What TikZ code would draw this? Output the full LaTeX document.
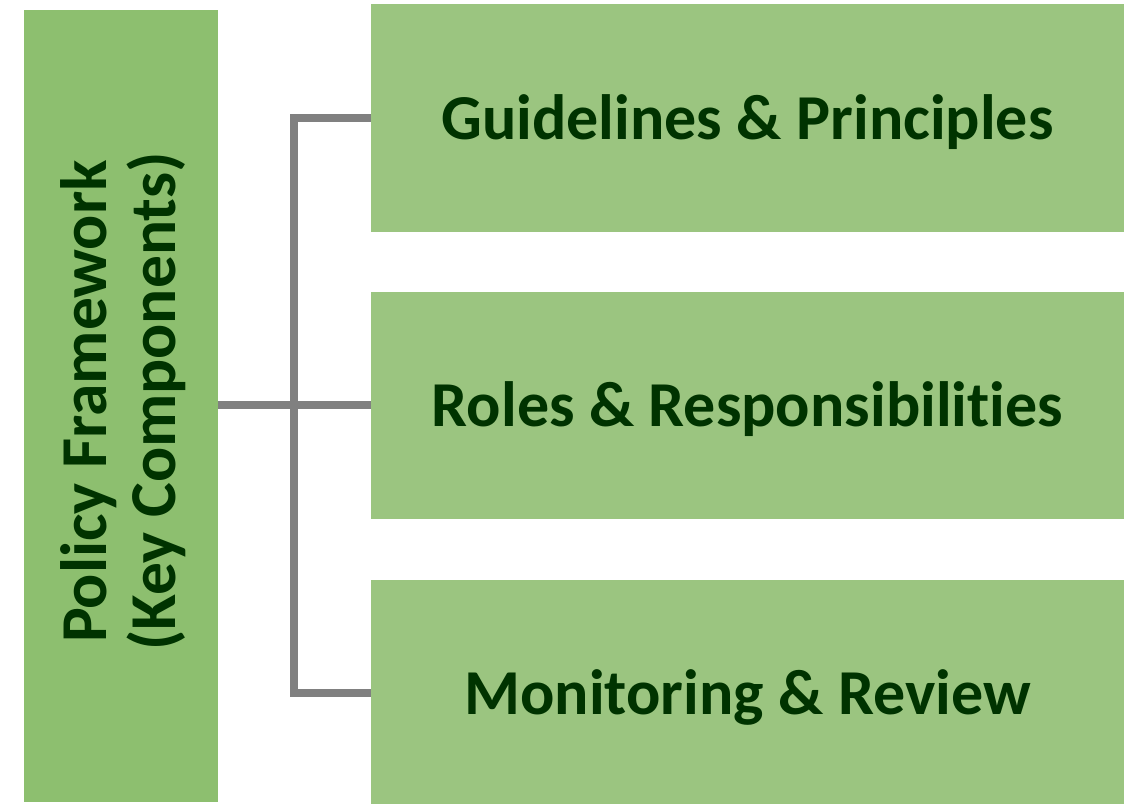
\documentclass[tikz,border=0pt]{standalone}
\usepackage{fontspec}
\setmainfont{Carlito}[Ligatures={NoCommon}]
\definecolor{leftgreen}{HTML}{8DBF6F}
\definecolor{boxgreen}{HTML}{9BC580}
\definecolor{textgreen}{HTML}{003300}
\definecolor{linegray}{HTML}{808080}
\tikzset{
  mainbox/.style={fill=leftgreen, draw=none, inner sep=0pt, minimum width=194pt, minimum height=792pt},
  partbox/.style={fill=boxgreen, draw=none, inner sep=0pt, minimum width=753pt, minimum height=#1},
  boxtext/.style={text=textgreen, inner sep=0pt, font=\fontsize{64}{69}\selectfont\bfseries},
  connector/.style={draw=linegray, line width=8pt}
}
\begin{document}
\begin{tikzpicture}[x=1pt,y=-1pt]
\useasboundingbox (0,0) rectangle (1124,804);
\node[mainbox] (main) at (121,406) {};
\node[boxtext, rotate=90, align=center, font=\fontsize{65.5}{69}\selectfont\bfseries] (maintext) at (123,401.5) {Policy Framework\\(Key Components)};
\node[partbox=228pt] (b1) at (747.5,118) {};
\node[partbox=227pt] (b2) at (747.5,405.5) {};
\node[partbox=224pt] (b3) at (747.5,692) {};
\node[boxtext, anchor=base] (t1) at (b1.center |- 0,139) {Guidelines \& Principles};
\node[boxtext, anchor=base] (t2) at (b2.center |- 0,426) {Roles \& Responsibilities};
\node[boxtext, anchor=base] (t3) at (b3.center |- 0,714) {Monitoring \& Review};
\coordinate (j) at (294,405);
\coordinate (jt) at (294,118);
\coordinate (jb) at (294,693);
\draw[connector] (main.east |- j) -- (b2.west |- j);
\draw[connector] ([yshift=-4pt]jt) -- ([yshift=4pt]jb);
\draw[connector] ([xshift=-4pt]jt) -- (b1.west |- jt);
\draw[connector] ([xshift=-4pt]jb) -- (b3.west |- jb);
\end{tikzpicture}
\end{document}
